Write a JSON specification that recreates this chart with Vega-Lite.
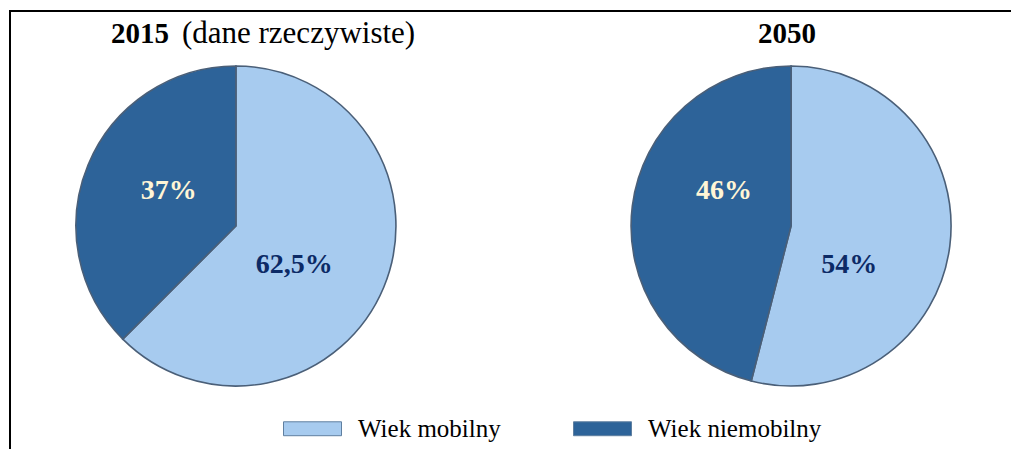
{
  "$schema": "https://vega.github.io/schema/vega-lite/v6.json",
  "width": 1011,
  "height": 449,
  "autosize": {"type": "fit", "contains": "padding"},
  "padding": {"left": 10, "top": 11, "right": -6, "bottom": 0},
  "background": "white",
  "datasets": {
    "pies": [
      {"year": "2015", "group": "Wiek mobilny", "value": 62.5, "label": "62,5%"},
      {"year": "2015", "group": "Wiek niemobilny", "value": 37.5, "label": "37%"},
      {"year": "2050", "group": "Wiek mobilny", "value": 54, "label": "54%"},
      {"year": "2050", "group": "Wiek niemobilny", "value": 46, "label": "46%"}
    ],
    "titles": [
      {"year": "2015", "bold": "2015", "rest": "(dane rzeczywiste)"},
      {"year": "2050", "bold": "2050", "rest": ""}
    ]
  },
  "encoding": {
    "x": {"field": "year", "type": "nominal", "scale": {"type": "point", "padding": 0.407}, "axis": null}
  },
  "layer": [
    {
      "data": {"name": "pies"},
      "transform": [{"stack": "value", "groupby": ["year"], "sort": [{"field": "group", "order": "ascending"}], "as": ["v0", "v1"]}],
      "mark": {"type": "arc", "outerRadius": 160, "yOffset": -4, "stroke": "#4a5f78", "strokeWidth": 1.6},
      "encoding": {
        "theta": {"field": "v0", "type": "quantitative", "stack": null, "scale": {"domain": [0, 100]}},
        "theta2": {"field": "v1"},
        "color": {
          "field": "group", "type": "nominal",
          "scale": {"domain": ["Wiek mobilny", "Wiek niemobilny"], "range": ["#A7CBEF", "#2D6399"]},
          "legend": {
            "orient": "none", "legendX": 273, "legendY": 388, "direction": "horizontal", "columns": 2,
            "title": null, "symbolType": "M-1,-0.24H1V0.24H-1Z", "symbolSize": 3364,
            "labelFont": "Liberation Serif", "labelFontSize": 25, "labelColor": "black",
            "labelOffset": 16, "columnPadding": 70, "symbolStrokeColor": "#5f7fa0",
            "symbolStrokeWidth": 1, "labelLimit": 400, "padding": 0
          }
        }
      }
    },
    {
      "data": {"name": "pies"},
      "transform": [
        {"stack": "value", "groupby": ["year"], "sort": [{"field": "group", "order": "ascending"}], "as": ["v0", "v1"]},
        {"filter": "datum.group === 'Wiek mobilny'"}
      ],
      "mark": {"type": "text", "radius": 68, "thetaOffset": 2.112, "font": "Liberation Serif", "fontWeight": "bold", "fontSize": 28, "color": "#0C2A66", "align": "center", "baseline": "middle"},
      "encoding": {
        "theta": {"field": "v0", "type": "quantitative", "stack": null},
        "text": {"field": "label"}
      }
    },
    {
      "data": {"name": "pies"},
      "transform": [
        {"stack": "value", "groupby": ["year"], "sort": [{"field": "group", "order": "ascending"}], "as": ["v0", "v1"]},
        {"filter": "datum.group === 'Wiek niemobilny'"}
      ],
      "mark": {"type": "text", "radius": 76, "thetaOffset": -1.082, "yOffset": -3, "font": "Liberation Serif", "fontWeight": "bold", "fontSize": 28, "color": "#FFF5D6", "align": "center", "baseline": "middle"},
      "encoding": {
        "theta": {"field": "v1", "type": "quantitative", "stack": null},
        "text": {"field": "label"}
      }
    },
    {
      "data": {"name": "titles"},
      "transform": [{"filter": "datum.year === '2015'"}],
      "mark": {"type": "text", "font": "Liberation Serif", "fontWeight": "bold", "fontSize": 29, "color": "black", "align": "center", "baseline": "alphabetic", "dx": -96, "dy": -187},
      "encoding": {"text": {"field": "bold"}}
    },
    {
      "data": {"name": "titles"},
      "transform": [{"filter": "datum.year === '2015'"}],
      "mark": {"type": "text", "font": "Liberation Serif", "fontWeight": "normal", "fontSize": 31, "color": "black", "align": "left", "baseline": "alphabetic", "dx": -54, "dy": -187},
      "encoding": {"text": {"field": "rest"}}
    },
    {
      "data": {"name": "titles"},
      "transform": [{"filter": "datum.year === '2050'"}],
      "mark": {"type": "text", "font": "Liberation Serif", "fontWeight": "bold", "fontSize": 29, "color": "black", "align": "center", "baseline": "alphabetic", "dx": -4, "dy": -187},
      "encoding": {"text": {"field": "bold"}}
    }
  ],
  "config": {
    "view": {"stroke": "black", "strokeWidth": 2, "strokeDash": [1007, 1445, 440]}
  }
}
